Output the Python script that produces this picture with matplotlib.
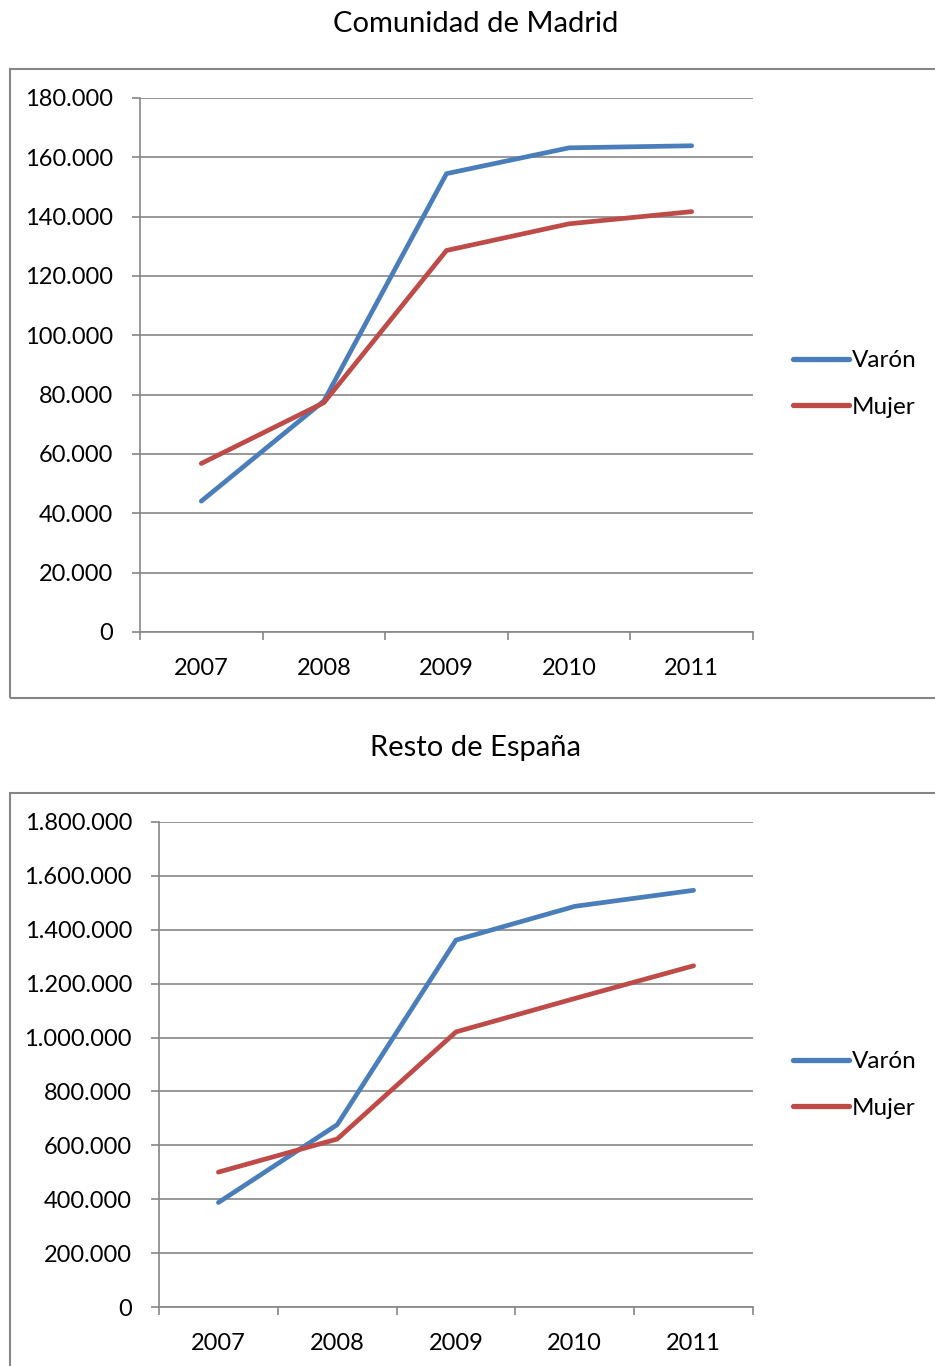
import matplotlib
matplotlib.use('Agg')
from matplotlib import pyplot as plt
from matplotlib.patches import Rectangle
from matplotlib.ticker import FuncFormatter, FixedLocator

# data
years = ['2007', '2008', '2009', '2010', '2011']
madrid_varon = [44100, 77900, 154500, 163200, 163900]
madrid_mujer = [56800, 77300, 128600, 137600, 141700]
resto_varon = [387800, 676600, 1361800, 1487000, 1546500]
resto_mujer = [500600, 623300, 1021000, 1145000, 1266400]

madrid_ticks = [0, 20000, 40000, 60000, 80000, 100000, 120000, 140000, 160000, 180000]
resto_ticks = [0, 200000, 400000, 600000, 800000, 1000000, 1200000, 1400000, 1600000, 1800000]

BLUE = '#4A7EBB'
RED = '#BE4B48'
GRAY = '#868686'

plt.rcParams['font.family'] = ['Lato', 'DejaVu Sans']

W, H = 935, 1366
fig = plt.figure(figsize=(W / 100, H / 100), dpi=100)


def px_axes(left, top, right, bottom):
    # pixel box (from top-left corner) -> figure fraction
    return fig.add_axes([left / W, 1 - bottom / H, (right - left) / W, (bottom - top) / H])


def thousands(v, pos):
    return '{:,.0f}'.format(v).replace(',', '.')


def draw_chart(ax, varon, mujer, ticks):
    x = range(len(years))
    ax.plot(x, varon, color=BLUE, lw=3.4, solid_capstyle='round', solid_joinstyle='round', label='Varón')
    ax.plot(x, mujer, color=RED, lw=3.4, solid_capstyle='round', solid_joinstyle='round', label='Mujer')
    ax.set_xlim(-0.5, len(years) - 0.5)
    ax.set_ylim(ticks[0], ticks[-1])
    ax.set_yticks(ticks)
    ax.yaxis.set_major_formatter(FuncFormatter(thousands))
    ax.set_xticks(list(x))
    ax.set_xticklabels(years)
    # category boundaries get the tick marks
    ax.xaxis.set_minor_locator(FixedLocator([i - 0.5 for i in range(len(years) + 1)]))
    ax.tick_params(axis='x', which='major', length=0, pad=18.5, labelsize=17)
    ax.tick_params(axis='x', which='minor', length=6, width=1.2, color=GRAY, direction='out')
    ax.tick_params(axis='y', length=6, width=1.2, color=GRAY, direction='out', pad=13.5, labelsize=17)
    ax.grid(axis='y', color=GRAY, lw=1.2)
    ax.set_axisbelow(True)
    for side in ['top', 'right']:
        ax.spines[side].set_visible(False)
    for side in ['left', 'bottom']:
        ax.spines[side].set_color(GRAY)
        ax.spines[side].set_linewidth(1.2)


def add_legend(ax, ycenter):
    leg = ax.legend(loc='center left', bbox_to_anchor=(793 / W, 1 - ycenter / H), bbox_transform=fig.transFigure,
                    frameon=False, fontsize=17.5, handlelength=2.3, handletextpad=0.12, labelspacing=1.05,
                    borderpad=0, borderaxespad=0)
    for line in leg.get_lines():
        line.set_linewidth(3.8)


# frames around each chart
fig.patches.append(Rectangle((9.5 / W, 1 - 698 / H), 1.0, (698 - 69) / H, transform=fig.transFigure,
                             fill=False, edgecolor=GRAY, lw=1.5))
fig.patches.append(Rectangle((9.5 / W, -0.05), 1.0, 0.05 + (1366 - 793) / H, transform=fig.transFigure,
                             fill=False, edgecolor=GRAY, lw=1.5))

fig.text(476 / W, 1 - 24 / H, 'Comunidad de Madrid', ha='center', va='center', fontsize=21)
fig.text(476 / W, 1 - 748 / H, 'Resto de España', ha='center', va='center', fontsize=21)

ax1 = px_axes(140, 98, 753, 632)
draw_chart(ax1, madrid_varon, madrid_mujer, madrid_ticks)
add_legend(ax1, 384)

ax2 = px_axes(159, 822, 753, 1307)
draw_chart(ax2, resto_varon, resto_mujer, resto_ticks)
add_legend(ax2, 1085)

fig.savefig('out.png', dpi=100)
